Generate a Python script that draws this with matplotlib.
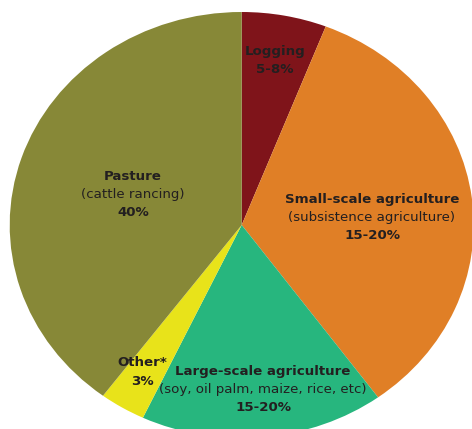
import matplotlib.pyplot as plt

# Share of deforestation by driver (wedge sizes, percent)
drivers = ["Logging", "Small-scale agriculture", "Large-scale agriculture", "Other*", "Pasture"]
shares = [5.9, 34.1, 17.0, 3.2, 39.8]
subtitles = ["", "(subsistence agriculture)", "(soy, oil palm, maize, rice, etc)", "", "(cattle rancing)"]
share_labels = ["5-8%", "15-20%", "15-20%", "3%", "40%"]
colors = ["#7f141a", "#e07f26", "#27b67e", "#e8e31a", "#878837"]

W, H = 472, 429
CX, CY = 241.7, 225.0   # pie centre in pixels
RX, RY = 232.0, 213.0   # pie radii in pixels (slightly squashed)


def px(x, y):
    # pixel position -> data coordinates of the unit pie
    return (x - CX) / RX, (CY - y) / RY


fig = plt.figure(figsize=(W / 100, H / 100), dpi=100)
ax = fig.add_axes([0, 0, 1, 1])
ax.pie(shares, colors=colors, startangle=90, counterclock=False,
       wedgeprops=dict(linewidth=0))
ax.set_aspect("auto")
x0, y0 = px(0, 0)
x1, y1 = px(W, H)
ax.set_xlim(x0, x1)
ax.set_ylim(y1, y0)

# label anchor points (centre of the title line) and line spacing
anchors = [(275, 51), (372, 199), (263, 371), (142, 363), (133, 176)]
step = 18.3
tc = "#231f20"
fs = 9.6

for name, sub, lab, (lx, ly) in zip(drivers, subtitles, share_labels, anchors):
    lines = [(name, "bold")]
    if sub:
        lines.append((sub, "normal"))
    lines.append((lab, "bold"))
    for i, (txt, w) in enumerate(lines):
        x, y = px(lx, ly + i * step)
        ax.text(x, y, txt, ha="center", va="center", fontsize=fs,
                fontweight=w, color=tc, family="DejaVu Sans")

fig.savefig("out.png", dpi=100)
